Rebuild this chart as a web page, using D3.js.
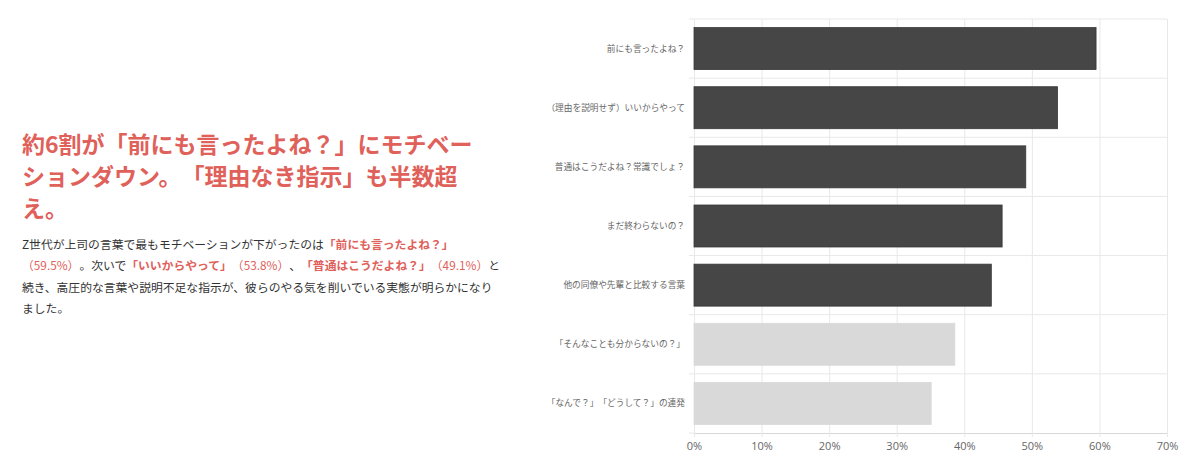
<!DOCTYPE html>
<html>
<head>
<meta charset="utf-8">
<script src="https://cdn.jsdelivr.net/npm/d3@7"></script>
<style>
  html, body { margin: 0; padding: 0; background: #fff; }
  svg { display: block; font-family: "Noto Sans CJK JP", "Noto Sans", sans-serif; text-spacing-trim: space-all; }
</style>
</head>
<body>
<svg id="chart" width="1200" height="470"></svg>
<script>
// 回答項目と割合（％）
const categories = [
  "前にも言ったよね？",
  "（理由を説明せず）いいからやって",
  "普通はこうだよね？常識でしょ？",
  "まだ終わらないの？",
  "他の同僚や先輩と比較する言葉",
  "「そんなことも分からないの？」",
  "「なんで？」「どうして？」の連発"
];
const values = [59.5, 53.8, 49.1, 45.6, 44.0, 38.6, 35.1];
const highlighted = [true, true, true, true, true, false, false];
const xTicks = [0, 10, 20, 30, 40, 50, 60, 70];

// 見出しと本文（[文字列, 0:通常 1:赤 2:赤太字]）
const titleLines = [
  "約6割が「前にも言ったよね？」にモチベー",
  "ションダウン。「理由なき指示」も半数超",
  "え。"
];
const bodyLines = [
  [["Z世代が上司の言葉で最もモチベーションが下がったのは", 0], ["「前にも言ったよね？」", 2]],
  [["（59.5%）", 1], ["。次いで", 0], ["「いいからやって」", 2], ["（53.8%）", 1], ["、", 0], ["「普通はこうだよね？」", 2], ["（49.1%）", 1], ["と", 0]],
  [["続き、高圧的な言葉や説明不足な指示が、彼らのやる気を削いでいる実態が明らかになり", 0]],
  [["ました。", 0]]
];

const red = "#e0605a";
const svg = d3.select("#chart");

// 左側のテキスト
svg.append("g")
  .selectAll("text")
  .data(titleLines)
  .join("text")
    .attr("x", 22)
    .attr("y", (d, i) => 153 + i * 32)
    .attr("fill", red)
    .attr("font-size", 23)
    .attr("font-weight", 700)
    .text(d => d);

svg.append("g")
  .selectAll("text")
  .data(bodyLines)
  .join("text")
    .attr("x", 22)
    .attr("y", (d, i) => 249 + i * 21.3)
    .attr("font-size", 11.8)
    .attr("fill", "#333")
    .selectAll("tspan")
    .data(d => d)
    .join("tspan")
      .attr("fill", d => d[1] ? red : "#333")
      .attr("font-weight", d => d[1] === 2 ? 700 : 400)
      .text(d => d[0]);

// 棒グラフ
const margin = {left: 694, right: 1167, top: 19, bottom: 433};

const x = d3.scaleLinear()
  .domain([0, 70])
  .range([margin.left, margin.right]);

const y = d3.scaleBand()
  .domain(categories)
  .range([margin.top, margin.bottom])
  .paddingInner(0.29)
  .paddingOuter(0.145);

const gap = y.step() * y.paddingInner() / 2;

// 縦グリッド
svg.append("g")
  .attr("transform", `translate(0,${margin.bottom})`)
  .call(d3.axisBottom(x)
    .tickValues(xTicks)
    .tickFormat(d => d + "%")
    .tickSize(-(margin.bottom - margin.top))
    .tickSizeOuter(0)
    .tickPadding(9))
  .call(g => g.select(".domain").attr("stroke", "#d8d8d8"))
  .call(g => g.selectAll(".tick line").attr("stroke", "#e8e8e8").attr("y2", 4).attr("y1", -(margin.bottom - margin.top)))
  .call(g => g.selectAll(".tick text")
    .attr("fill", "#666")
    .attr("font-size", 11)
    .attr("font-family", "'Open Sans', 'Noto Sans', sans-serif"));

// 横グリッド（項目の区切り）
const bounds = categories.map(c => y(c) - gap);
svg.append("g")
  .selectAll("line")
  .data(bounds)
  .join("line")
    .attr("x1", margin.left - 5)
    .attr("x2", margin.right)
    .attr("y1", d => d)
    .attr("y2", d => d)
    .attr("stroke", "#e8e8e8");

svg.append("line")
  .attr("x1", margin.left - 5)
  .attr("x2", margin.left)
  .attr("y1", margin.bottom)
  .attr("y2", margin.bottom)
  .attr("stroke", "#e8e8e8");

// 棒
svg.append("g")
  .selectAll("rect")
  .data(categories)
  .join("rect")
    .attr("x", x(0))
    .attr("y", d => y(d))
    .attr("width", (d, i) => x(values[i]) - x(0))
    .attr("height", y.bandwidth())
    .attr("fill", (d, i) => highlighted[i] ? "#464646" : "#d9d9d9")
    .attr("stroke", (d, i) => highlighted[i] ? "#383838" : "#d9d9d9")
    .attr("stroke-width", 0.8);

// 項目ラベル
svg.append("g")
  .selectAll("text")
  .data(categories)
  .join("text")
    .attr("x", margin.left - 9)
    .attr("y", d => y(d) + y.bandwidth() / 2)
    .attr("dy", "0.35em")
    .attr("text-anchor", "end")
    .attr("font-size", 8.7)
    .attr("fill", "#666")
    .text(d => d);
</script>
</body>
</html>
